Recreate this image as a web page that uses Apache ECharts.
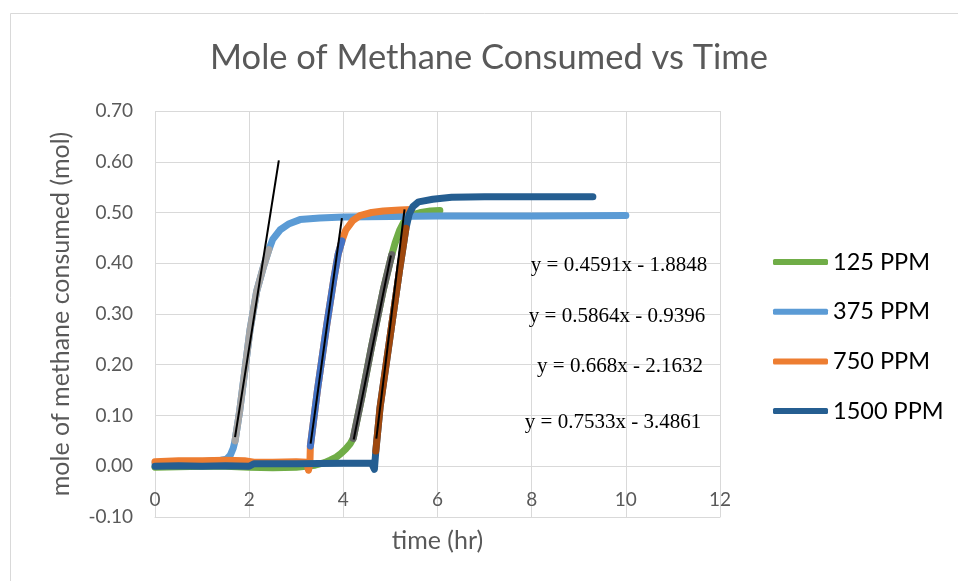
<!DOCTYPE html>
<html>
<head>
<meta charset="utf-8">
<title>Mole of Methane Consumed vs Time</title>
<script src="https://cdn.jsdelivr.net/npm/echarts@6/dist/echarts.min.js"></script>
<style>
  html, body { margin: 0; padding: 0; background: #fff; }
  #chart { width: 958px; height: 581px; }
</style>
</head>
<body>
<div id="chart"></div>
<script>
// Methane uptake curves, [time (hr), mole consumed]
const seriesNames = ['125 PPM', '375 PPM', '750 PPM', '1500 PPM'];

const ppm125 = [
  [0, -0.002], [0.5, -0.001], [1.0, 0.0], [1.5, 0.0], [2.0, -0.002], [2.5, -0.003],
  [3.0, -0.002], [3.4, 0.002], [3.6, 0.007], [3.72, 0.012], [3.85, 0.018], [3.95, 0.025],
  [4.05, 0.034], [4.15, 0.045], [4.21, 0.055], [4.4, 0.14], [4.6, 0.236], [4.85, 0.348],
  [5.03, 0.417], [5.1, 0.44], [5.2, 0.466], [5.3, 0.484], [5.45, 0.495], [5.65, 0.5],
  [5.85, 0.503], [6.05, 0.504]
];
const ppm375 = [
  [0, 0.006], [0.5, 0.007], [1.0, 0.009], [1.4, 0.012], [1.52, 0.014], [1.6, 0.022],
  [1.66, 0.035], [1.70, 0.05], [1.8, 0.11], [1.91, 0.19], [2.02, 0.27], [2.16, 0.345],
  [2.3, 0.392], [2.42, 0.427], [2.5, 0.447], [2.66, 0.466], [2.85, 0.478], [3.08, 0.486],
  [3.5, 0.489], [4.0, 0.491], [5.0, 0.492], [6.0, 0.493], [8.0, 0.493], [10.0, 0.494]
];
const ppm750 = [
  [0, 0.009], [0.5, 0.011], [1.0, 0.011], [1.5, 0.012], [1.9, 0.011], [2.1, 0.008],
  [2.5, 0.008], [3.0, 0.009], [3.22, 0.008], [3.26, -0.008], [3.29, 0.006], [3.3, 0.04],
  [3.45, 0.15], [3.65, 0.28], [3.8, 0.37], [3.89, 0.418], [3.97, 0.444], [4.05, 0.465],
  [4.2, 0.484], [4.35, 0.494], [4.6, 0.5], [4.85, 0.503], [5.2, 0.505], [5.45, 0.506]
];
const ppm1500 = [
  [0, 0.0], [0.5, 0.001], [1.0, 0.0], [1.5, 0.001], [2.0, 0.0], [2.1, 0.005],
  [3.0, 0.005], [4.0, 0.006], [4.6, 0.006], [4.66, -0.006], [4.69, 0.03], [4.78, 0.116],
  [5.03, 0.28], [5.2, 0.39], [5.33, 0.469], [5.4, 0.497], [5.48, 0.512], [5.6, 0.521],
  [5.9, 0.526], [6.3, 0.53], [7.0, 0.531], [8.0, 0.531], [9.3, 0.531]
];

// Steep sections picked out for the linear fits
const fit125 = [[4.21, 0.055], [4.4, 0.14], [4.6, 0.236], [4.85, 0.348], [5.03, 0.417]];
const fit375 = [[1.70, 0.05], [1.8, 0.11], [1.91, 0.19], [2.02, 0.27], [2.16, 0.345], [2.3, 0.392], [2.42, 0.427]];
const fit750 = [[3.3, 0.04], [3.45, 0.15], [3.65, 0.28], [3.8, 0.37], [3.89, 0.418], [3.97, 0.444]];
const fit1500 = [[4.69, 0.03], [4.78, 0.116], [5.03, 0.28], [5.2, 0.39], [5.33, 0.469]];

// Linear trendlines: slope, intercept and drawn time range
const trendSlopes = [0.4591, 0.5864, 0.668, 0.7533];
const trendIntercepts = [-1.8848, -0.9396, -2.1632, -3.4861];
const trendRanges = [[4.22, 5.01], [1.70, 2.63], [3.305, 3.97], [4.70, 5.30]];

// Axis ticks
const xTicks = [0, 2, 4, 6, 8, 10, 12];
const yTicks = [-0.1, 0, 0.1, 0.2, 0.3, 0.4, 0.5, 0.6, 0.7];

const mainColors = ['#70AD47', '#5B9BD5', '#ED7D31', '#255E91'];
const fitColors = ['#636363', '#A5A5A5', '#4472C4', '#9E480E'];
const mainData = [ppm125, ppm375, ppm750, ppm1500];
const fitData = [fit125, fit375, fit750, fit1500];
// fit series are drawn in this order on top of the main curves
const fitOrder = [1, 2, 0, 3];

function fmtEq(i) {
  const b = trendIntercepts[i];
  return 'y = ' + trendSlopes[i] + 'x ' + (b < 0 ? '- ' : '+ ') + Math.abs(b);
}

const series = [];
mainData.forEach((d, i) => {
  series.push({
    name: seriesNames[i], type: 'line', data: d, symbol: 'none',
    lineStyle: { color: mainColors[i], width: 7, cap: 'round', join: 'round' },
    itemStyle: { color: mainColors[i] }, z: 2 + i
  });
});
fitOrder.forEach((i, k) => {
  series.push({
    name: 'fit' + i, type: 'line', data: fitData[i], symbol: 'none',
    lineStyle: { color: fitColors[i], width: 7, cap: 'round', join: 'round' },
    z: 10 + k
  });
});
fitOrder.forEach((i, k) => {
  const r = trendRanges[i];
  series.push({
    name: 'trend' + i, type: 'line', symbol: 'none',
    data: r.map(x => [x, trendSlopes[i] * x + trendIntercepts[i]]),
    lineStyle: { color: '#000', width: 2 }, z: 20 + k
  });
});

// Trendline equations (placed to the right of the curves)
const eqPos = [[619, 265], [617, 316], [620, 366], [613, 422]];
const eqGraphics = [0, 1, 2, 3].map(i => ({
  type: 'text', x: eqPos[i][0], y: eqPos[i][1], z: 100,
  style: {
    text: fmtEq(i), fill: '#000', font: '21px "Liberation Serif", "Times New Roman", serif',
    textAlign: 'center', textVerticalAlign: 'middle'
  }
}));

const chart = echarts.init(document.getElementById('chart'), null, { renderer: 'canvas' });
chart.setOption({
  animation: false,
  backgroundColor: '#fff',
  title: {
    text: 'Mole of Methane Consumed vs Time',
    left: 489, top: 40, textAlign: 'center', padding: 0,
    textStyle: { fontFamily: 'Lato', fontSize: 34.5, fontWeight: 'normal', color: '#595959' }
  },
  grid: { left: 155, right: 238, top: 111, bottom: 64, containLabel: false, outerBoundsMode: 'none' },
  legend: {
    orient: 'vertical', left: 768, top: 245,
    data: seriesNames.map(n => ({ name: n, icon: 'roundRect' })),
    itemWidth: 55, itemHeight: 6, itemGap: 25.7,
    textStyle: { fontFamily: 'Lato', fontSize: 23.5, color: '#000', lineHeight: 22 }
  },
  xAxis: {
    type: 'value', min: xTicks[0], max: xTicks[xTicks.length - 1], interval: 2,
    name: 'time (hr)', nameLocation: 'middle', nameGap: 11,
    nameTextStyle: { fontFamily: 'Lato', fontSize: 25, color: '#595959' },
    axisLine: { show: true, onZero: false, lineStyle: { color: '#D9D9D9', width: 1 } },
    axisTick: { show: false },
    axisLabel: { inside: true, margin: 8, fontFamily: 'Lato', fontSize: 19, color: '#595959' },
    splitLine: { show: true, lineStyle: { color: '#D9D9D9', width: 1 } }
  },
  yAxis: {
    type: 'value', min: yTicks[0], max: yTicks[yTicks.length - 1], interval: 0.1,
    name: 'mole of methane consumed (mol)', nameLocation: 'middle', nameGap: 82,
    nameTextStyle: { fontFamily: 'Lato', fontSize: 25, color: '#595959' },
    axisLine: { show: false }, axisTick: { show: false },
    axisLabel: {
      margin: 22, fontFamily: 'Lato', fontSize: 19, color: '#595959',
      formatter: v => v.toFixed(2)
    },
    splitLine: { show: true, lineStyle: { color: '#D9D9D9', width: 1 } }
  },
  graphic: [
    {
      type: 'rect', shape: { x: 10.5, y: 13.5, width: 980, height: 600 },
      style: { fill: 'none', stroke: '#D9D9D9', lineWidth: 1 }, z: -1, silent: true
    }
  ].concat(eqGraphics),
  series: series
});
</script>
</body>
</html>
